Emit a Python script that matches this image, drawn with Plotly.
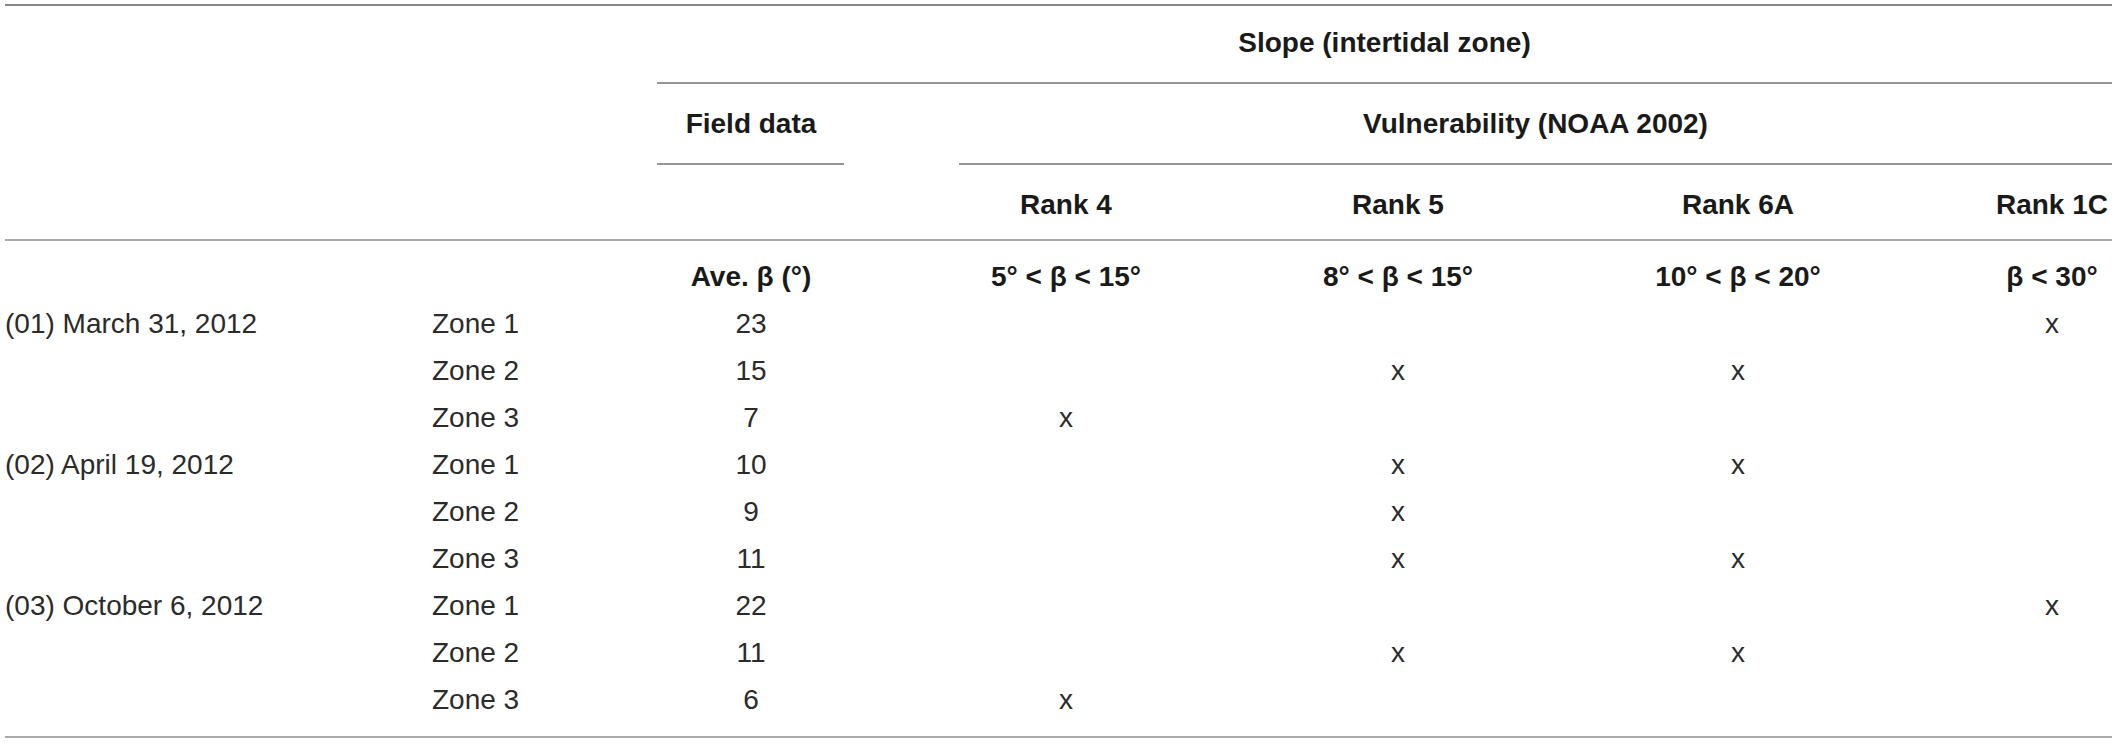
import plotly.graph_objects as go

# Table content
dates = ["(01) March 31, 2012", "(02) April 19, 2012", "(03) October 6, 2012"]
zones = ["Zone 1", "Zone 2", "Zone 3"]
ave_beta = [23, 15, 7, 10, 9, 11, 22, 11, 6]

rank_labels = ["Rank 4", "Rank 5", "Rank 6A", "Rank 1C"]
rank_ranges = ["5° < β < 15°", "8° < β < 15°", "10° < β < 20°", "β < 30°"]

# 1 = marked with "x" for that zone row
rank4 = [0, 0, 1, 0, 0, 0, 0, 0, 1]
rank5 = [0, 1, 0, 1, 1, 1, 0, 1, 0]
rank6a = [0, 1, 0, 1, 0, 1, 0, 1, 0]
rank1c = [1, 0, 0, 0, 0, 0, 1, 0, 0]

# Layout (pixel coordinates of the page)
W, H = 2117, 743
col_date = 5
col_zone = 432
col_field = 751
col_ranks = [1066, 1398, 1738, 2052]
y_slope, y_group, y_rank, y_sub = 45, 126, 207, 279
row0, row_h = 326, 47
row_y = [row0 + i * row_h for i in range(len(ave_beta))]

FONT = "Liberation Sans, Arial, sans-serif"
SIZE = 28
body = dict(family=FONT, size=SIZE, color="#2b2b2b")
bold = dict(family=FONT, size=SIZE, color="#1a1a1a", weight="bold")
line_col = "rgb(150,150,150)"

fig = go.Figure()

# header texts
fig.add_trace(go.Scatter(
    x=[(657 + 2112) / 2, col_field, (959 + 2112) / 2],
    y=[y_slope, y_group, y_group],
    text=["Slope (intertidal zone)", "Field data", "Vulnerability (NOAA 2002)"],
    mode="text", textposition="middle center", textfont=bold, hoverinfo="skip"))
fig.add_trace(go.Scatter(
    x=col_ranks, y=[y_rank] * len(rank_labels), text=rank_labels,
    mode="text", textposition="middle center", textfont=bold, hoverinfo="skip"))
fig.add_trace(go.Scatter(
    x=[col_field] + col_ranks, y=[y_sub] * (len(rank_ranges) + 1),
    text=["Ave. β (°)"] + rank_ranges,
    mode="text", textposition="middle center", textfont=bold, hoverinfo="skip"))

# date labels (first row of each group)
fig.add_trace(go.Scatter(
    x=[col_date] * len(dates), y=[row_y[i * 3] for i in range(len(dates))], text=dates,
    mode="text", textposition="middle right", textfont=body, hoverinfo="skip"))

# zone labels
zone_text = zones * len(dates)
fig.add_trace(go.Scatter(
    x=[col_zone] * len(zone_text), y=row_y, text=zone_text,
    mode="text", textposition="middle right", textfont=body, hoverinfo="skip"))

# field data
fig.add_trace(go.Scatter(
    x=[col_field] * len(ave_beta), y=row_y, text=[str(v) for v in ave_beta],
    mode="text", textposition="middle center", textfont=body, hoverinfo="skip"))

# vulnerability marks
for cx, marks in zip(col_ranks, [rank4, rank5, rank6a, rank1c]):
    ys = [y for y, m in zip(row_y, marks) if m]
    fig.add_trace(go.Scatter(
        x=[cx] * len(ys), y=ys, text=["x"] * len(ys),
        mode="text", textposition="middle center", textfont=body, hoverinfo="skip"))

# rules
rules = [
    (5, 2112, 5, "rgb(135,135,135)"),
    (657, 2112, 83, line_col),
    (657, 844, 164, line_col),
    (959, 2112, 164, line_col),
    (5, 2112, 240, "rgb(170,170,170)"),
    (5, 2112, 737, "rgb(170,170,170)"),
]
for x0, x1, y, c in rules:
    fig.add_shape(type="line", xref="x", yref="y", x0=x0, x1=x1, y0=y, y1=y,
                  line=dict(color=c, width=2))

fig.update_layout(
    width=W, height=H,
    margin=dict(l=0, r=0, t=0, b=0),
    plot_bgcolor="white", paper_bgcolor="white",
    showlegend=False,
    xaxis=dict(range=[0, W], visible=False, fixedrange=True),
    yaxis=dict(range=[H, 0], visible=False, fixedrange=True),
)

fig.write_html("out.html", config={"displayModeBar": False},
               post_script="document.body.style.margin='0';")
